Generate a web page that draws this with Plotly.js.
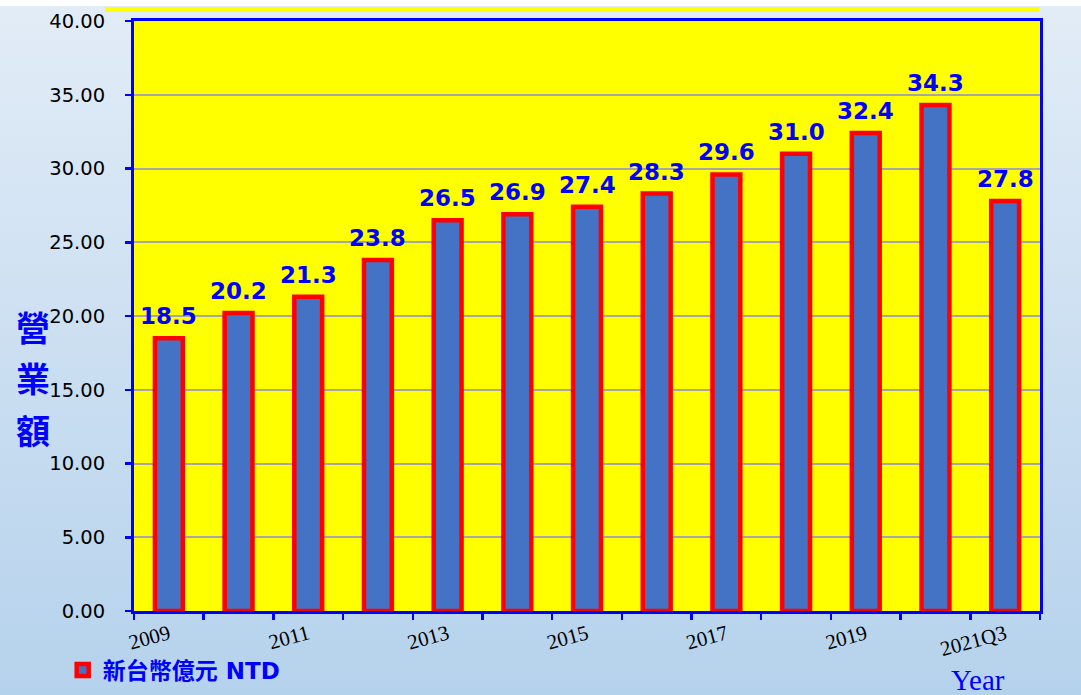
<!DOCTYPE html>
<html>
<head>
<meta charset="utf-8">
<script src="https://cdn.plot.ly/plotly-3.0.1.min.js"></script>
<style>
html, body { margin: 0; padding: 0; }
body {
  width: 1081px; height: 695px; overflow: hidden;
  background: linear-gradient(to bottom, #ffffff 0px, #ffffff 6px, #E2ECF7 6px, #B5D2EC 100%);
}
#chart { width: 1081px; height: 695px; }
</style>
</head>
<body>
<div id="chart"></div>
<script>
// ---- data ----
const categories = ["2009","2010","2011","2012","2013","2014","2015","2016","2017","2018","2019","2020","2021Q3"];
const revenue = [18.5, 20.2, 21.3, 23.8, 26.5, 26.9, 27.4, 28.3, 29.6, 31.0, 32.4, 34.3, 27.8];
const tickLabels = ["2009","","2011","","2013","","2015","","2017","","2019","","2021Q3"];
const seriesName = "新台幣億元 NTD";
const yTitleChars = ["營","業","額"];
const xTitle = "Year";

// ---- style ----
const BLUE = "#0000FF";

const trace = {
  type: "bar",
  x: categories,
  y: revenue,
  name: seriesName,
  width: 0.4,
  marker: { color: "#4472C4", line: { color: "#FF0000", width: 4.5 } },
  hoverinfo: "x+y"
};

const annotations = [];
categories.forEach((c, i) => {
  annotations.push({
    x: i, y: revenue[i], xref: "x", yref: "y",   // category axis: index of category
    text: revenue[i].toFixed(1),
    showarrow: false, yanchor: "bottom", yshift: 7,
    font: { family: "DejaVu Sans, Liberation Sans, sans-serif", size: 23, color: BLUE, weight: "bold" }
  });
});
const yTitleY = [0.483, 0.395, 0.307];
yTitleChars.forEach((ch, i) => {
  annotations.push({
    x: -0.1115, y: yTitleY[i], xref: "paper", yref: "paper",
    text: ch, showarrow: false, xanchor: "center", yanchor: "middle",
    font: { family: "Noto Sans CJK TC, sans-serif", size: 34, color: BLUE, weight: "bold" }
  });
});
annotations.push({
  x: 0.9316, y: -0.117, xref: "paper", yref: "paper",
  text: xTitle, showarrow: false, xanchor: "center", yanchor: "middle",
  font: { family: "Liberation Serif, DejaVu Serif, serif", size: 29, color: BLUE }
});

const layout = {
  width: 1081, height: 695,
  margin: { l: 134, r: 41, t: 21, b: 84, pad: 0, autoexpand: false },
  paper_bgcolor: "rgba(0,0,0,0)",
  plot_bgcolor: "#FFFF00",
  showlegend: true,
  legend: {
    orientation: "h", xref: "container", yref: "container",
    x: 0.058, y: 0.036, xanchor: "left", yanchor: "middle",
    bgcolor: "rgba(0,0,0,0)",
    font: { family: "DejaVu Sans, Noto Sans CJK TC, sans-serif", size: 23, color: BLUE, weight: "bold" }
  },
  xaxis: {
    type: "category", automargin: false,
    range: [-0.5, categories.length - 0.5],
    tickmode: "array", tickvals: categories, ticktext: tickLabels,
    tickson: "boundaries",
    ticks: "outside", ticklen: 6, tickwidth: 2.5, tickcolor: BLUE,
    tickangle: -15,
    tickfont: { family: "Liberation Serif, DejaVu Serif, serif", size: 21, color: "#000000" },
    showline: true, linecolor: BLUE, linewidth: 3, mirror: true,
    showgrid: false, zeroline: false
  },
  yaxis: {
    automargin: false,
    range: [0, 40], dtick: 5, tick0: 0,
    tickformat: ".2f",
    ticks: "outside", ticklen: 6, tickwidth: 2.5, tickcolor: BLUE,
    ticklabelstandoff: 16,
    tickfont: { family: "DejaVu Sans, sans-serif", size: 19.5, color: "#000000" },
    showline: true, linecolor: BLUE, linewidth: 3, mirror: true,
    showgrid: true, gridcolor: "#A6A6A6", gridwidth: 2,
    zeroline: false
  },
  shapes: [{
    type: "rect", xref: "paper", yref: "paper",
    x0: -0.032, x1: 0.9989, y0: 1.0152, y1: 1.0237,
    fillcolor: "#FFFF00", line: { width: 0 }
  }],
  annotations: annotations
};

Plotly.newPlot("chart", [trace], layout, { displayModeBar: false, staticPlot: true });
</script>
</body>
</html>
